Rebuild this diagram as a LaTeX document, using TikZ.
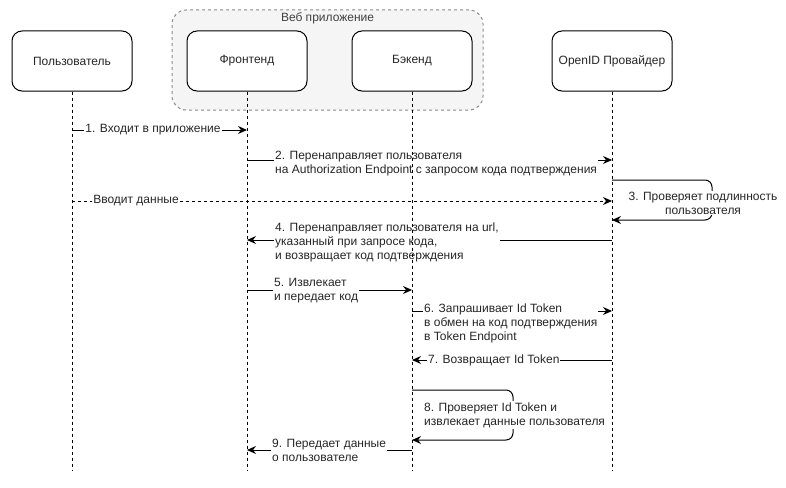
\documentclass[tikz,border=0pt]{standalone}
\usepackage{fontspec}
\setmainfont{Liberation Sans}
\usetikzlibrary{arrows.meta}
\begin{document}
\begin{tikzpicture}[x=1pt,y=-1pt,
  font=\fontsize{12}{14}\selectfont, text=black!85,
  actor/.style={draw, rounded corners=10pt, minimum width=120pt, minimum height=60pt,
    line width=1pt, fill=white, text=black!85},
  groupbox/.style={draw=black!45, dashed, dash pattern=on 3pt off 3pt, rounded corners=14pt,
    fill=black!4, minimum width=311pt, minimum height=100pt, line width=1pt},
  life/.style={dash pattern=on 3pt off 3pt, line width=1pt},
  msg/.style={-{Stealth[length=9pt,width=8pt,inset=3pt]}, line width=1pt},
  retmsg/.style={msg, dash pattern=on 3pt off 3pt},
  lbl/.style={fill=white, inner sep=1pt, align=left},
  lblc/.style={fill=white, inner sep=1pt, align=center}
]
\useasboundingbox (0,0) rectangle (786,487);

% web application group
\node[groupbox] (grp) at (327.5,60) {};
\node[text=black!75] (grptitle) at (327.5,18) {Веб приложение};

% participants
\node[actor] (usr) at (72,61)  {Пользователь};
\node[actor] (fe)  at (247,61) {Фронтенд};
\node[actor] (be)  at (412,61) {Бэкенд};
\node[actor] (op)  at (612,61) {OpenID Провайдер};

% lifeline ends
\coordinate (usrEnd) at (72,470);
\coordinate (feEnd)  at (247,470);
\coordinate (beEnd)  at (412,470);
\coordinate (opEnd)  at (612,470);

% message end points
\coordinate (m1a) at (72,130);  \coordinate (m1b) at (247,130);
\coordinate (m2a) at (247,160); \coordinate (m2b) at (612,160);
\coordinate (m3a) at (612,180); \coordinate (m3r) at (712,180);
\coordinate (m3s) at (712,220); \coordinate (m3b) at (612,220);
\coordinate (mda) at (72,201);  \coordinate (mdb) at (612,201);
\coordinate (m4a) at (612,240); \coordinate (m4b) at (247,240);
\coordinate (m5a) at (247,290); \coordinate (m5b) at (412,290);
\coordinate (m6a) at (412,311); \coordinate (m6b) at (612,311);
\coordinate (m7a) at (612,360); \coordinate (m7b) at (412,360);
\coordinate (m8a) at (412,390); \coordinate (m8r) at (513,390);
\coordinate (m8s) at (513,440); \coordinate (m8b) at (412,440);
\coordinate (m9a) at (412,450); \coordinate (m9b) at (247,450);

% messages
\draw[msg] (m1a) -- (m1b);
\node[lblc] (l1) at (153,130) {1. Входит в приложение};

\draw[msg] (m2a) -- (m2b);
\node[lbl, anchor=west] (l2) at (274,163.5) {2. Перенаправляет пользователя\\на Authorization Endpoint с запросом кода подтверждения};

\draw[msg, rounded corners=7pt] (m3a) -- (m3r) -- (m3s) -- (m3b);
\node[lblc] (l3) at (703,203) {3. Проверяет подлинность\\пользователя};

\draw[retmsg] (mda) -- (mdb);
\node[lblc] (ld) at (136,201) {Вводит данные};

\draw[msg] (m4a) -- (m4b);
\node[lbl, anchor=west] (l4) at (274,242) {4. Перенаправляет пользователя на url,\\указанный при запросе кода,\\и возвращает код подтверждения};

\draw[msg] (m5a) -- (m5b);
\node[lbl, anchor=west] (l5) at (273,291) {5. Извлекает\\и передает код};

\draw[msg] (m6a) -- (m6b);
\node[lbl, anchor=west] (l6) at (423,323) {6. Запрашивает Id Token\\в обмен на код подтверждения\\в Token Endpoint};

\draw[msg] (m7a) -- (m7b);
\node[lbl, anchor=west] (l7) at (427,360) {7. Возвращает Id Token};

\draw[msg, rounded corners=7pt] (m8a) -- (m8r) -- (m8s) -- (m8b);
\node[lbl, anchor=west] (l8) at (423,415) {8. Проверяет Id Token и\\извлекает данные пользователя};

\draw[msg] (m9a) -- (m9b);
\node[lbl, anchor=west] (l9) at (271,450) {9. Передает данные\\о пользователе};

% lifelines
\draw[life] (usr.south) -- (usrEnd);
\draw[life] (fe.south)  -- (feEnd);
\draw[life] (be.south)  -- (beEnd);
\draw[life] (op.south)  -- (opEnd);
\end{tikzpicture}
\end{document}
